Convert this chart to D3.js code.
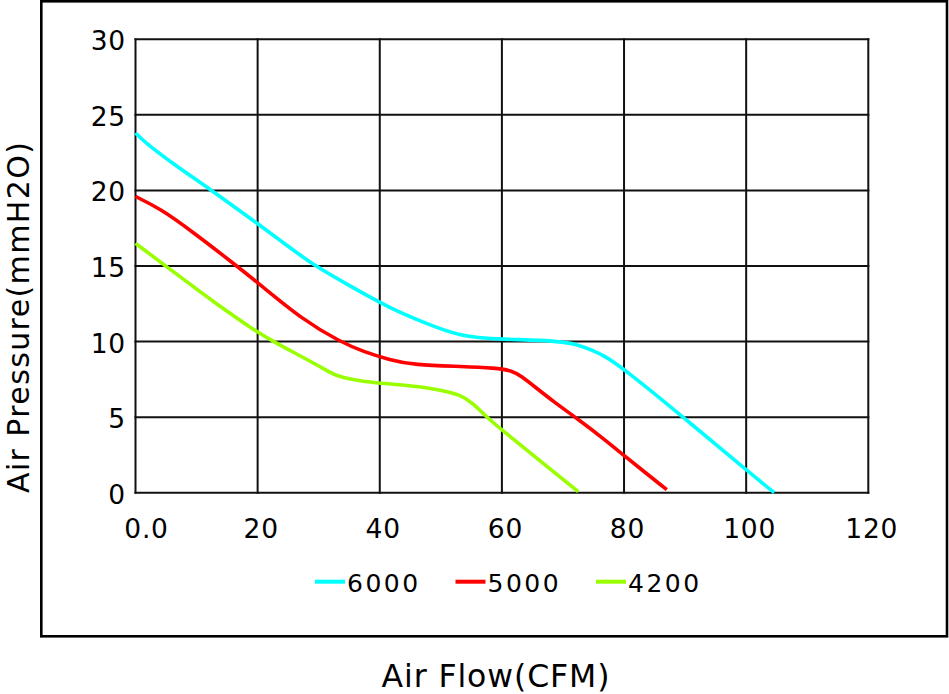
<!DOCTYPE html>
<html>
<head>
<meta charset="utf-8">
<script src="https://cdn.jsdelivr.net/npm/d3@7"></script>
<style>
  html, body { margin: 0; padding: 0; background: #fff; }
  svg { display: block; }
  text { font-family: "DejaVu Sans", "Liberation Sans", Arial, sans-serif; fill: #000; }
</style>
</head>
<body>
<svg id="chart" width="949" height="694"></svg>
<script>
// ---- data ----
const seriesNames = ["6000", "5000", "4200"];
const seriesColors = ["#00ffff", "#ff0000", "#99ff00"];

const flow6000 = [0, 1.5, 6, 12.5, 20, 25.8, 29.4, 35, 41.7, 47, 53.1, 60, 69, 72.5, 74.9, 76.6, 80, 89.7, 100, 104.6];
const pres6000 = [23.8, 23.2, 21.8, 20, 17.8, 16.06, 15, 13.7, 12.2, 11.3, 10.32, 10.15, 10.06, 9.8, 9.4, 9.1, 8.2, 5, 1.5, 0];

const flow5000 = [0, 4, 8.9, 16.6, 20, 27.5, 33.5, 37.3, 41.7, 45.5, 53.7, 58.8, 61.6, 63.2, 65.4, 68.7, 72.5, 76.9, 80, 87];
const pres5000 = [19.6, 18.8, 17.4, 15, 13.9, 11.4, 10, 9.33, 8.78, 8.45, 8.35, 8.25, 8.1, 7.7, 7.0, 5.95, 4.85, 3.5, 2.45, 0.2];

const flow4200 = [0, 5.1, 12.7, 20, 22.6, 30.8, 32.9, 37.3, 41.7, 46.6, 49.9, 53.1, 55.3, 57.5, 60, 72.5];
const pres4200 = [16.5, 14.96, 12.64, 10.6, 9.99, 8.23, 7.68, 7.35, 7.2, 7.02, 6.79, 6.5, 5.92, 5, 4.15, 0.07];

const xTicks = [0, 20, 40, 60, 80, 100, 120];
const xTickLabels = ["0.0", "20", "40", "60", "80", "100", "120"];
const yTicks = [0, 5, 10, 15, 20, 25, 30];
const yTickLabels = ["0", "5", "10", "15", "20", "25", "30"];

const xTitle = "Air Flow(CFM)";
const yTitle = "Air Pressure(mmH2O)";

// ---- drawing ----
const svg = d3.select("#chart");

const x = d3.scaleLinear().domain([0, 120]).range([135.5, 868.3]);
const y = d3.scaleLinear().domain([0, 30]).range([492.7, 39.3]);

// outer frame
svg.append("rect")
  .attr("x", 41.3).attr("y", 1.3)
  .attr("width", 905.7).attr("height", 635)
  .attr("fill", "none").attr("stroke", "#000").attr("stroke-width", 2.6);

// grid
const grid = svg.append("g").attr("stroke", "#111").attr("stroke-width", 2);
grid.selectAll("line.v").data(xTicks).join("line")
  .attr("class", "v")
  .attr("x1", d => x(d)).attr("x2", d => x(d))
  .attr("y1", y(0) + 1).attr("y2", y(30) - 1);
grid.selectAll("line.h").data(yTicks).join("line")
  .attr("class", "h")
  .attr("x1", x(0) - 1).attr("x2", x(120) + 1)
  .attr("y1", d => y(d)).attr("y2", d => y(d));

// y tick labels
svg.append("g").selectAll("text").data(yTicks).join("text")
  .attr("x", 126)
  .attr("y", d => y(d) + 11)
  .attr("text-anchor", "end")
  .style("font-size", "26.5px")
  .style("letter-spacing", "0.8px")
  .text((d, i) => yTickLabels[i]);

// x tick labels
svg.append("g").selectAll("text").data(xTicks).join("text")
  .attr("x", d => x(d) + (d === 0 ? 11 : 3.5))
  .attr("y", 537.7)
  .attr("text-anchor", "middle")
  .style("font-size", "26.5px")
  .style("letter-spacing", "0.8px")
  .text((d, i) => xTickLabels[i]);

// curves
const flows = [flow6000, flow5000, flow4200];
const pressures = [pres6000, pres5000, pres4200];
const line = d3.line()
  .x(d => x(d[0]))
  .y(d => y(d[1]))
  .curve(d3.curveBasis);

flows.forEach((f, i) => {
  const pts = f.map((v, j) => [v, pressures[i][j]]);
  svg.append("path")
    .datum(pts)
    .attr("d", line)
    .attr("fill", "none")
    .attr("stroke", seriesColors[i])
    .attr("stroke-width", 3.6)
    .attr("stroke-linejoin", "round");
});

// legend
const legend = svg.append("g");
seriesNames.forEach((name, i) => {
  const lx = 315 + i * 140.5;
  legend.append("line")
    .attr("x1", lx).attr("x2", lx + 30)
    .attr("y1", 581.7).attr("y2", 581.7)
    .attr("stroke", seriesColors[i]).attr("stroke-width", 4);
  legend.append("text")
    .attr("x", lx + 32)
    .attr("y", 591.7)
    .style("font-size", "25px")
    .style("letter-spacing", "2.5px")
    .text(name);
});

// axis titles
svg.append("text")
  .attr("x", 381.5).attr("y", 686.7)
  .attr("textLength", 228).attr("lengthAdjust", "spacing")
  .style("font-size", "31.5px")
  .text(xTitle);

svg.append("text")
  .attr("transform", "translate(29,493) rotate(-90)")
  .attr("x", 0).attr("y", 0)
  .attr("textLength", 351).attr("lengthAdjust", "spacing")
  .style("font-size", "30px")
  .text(yTitle);
</script>
</body>
</html>
